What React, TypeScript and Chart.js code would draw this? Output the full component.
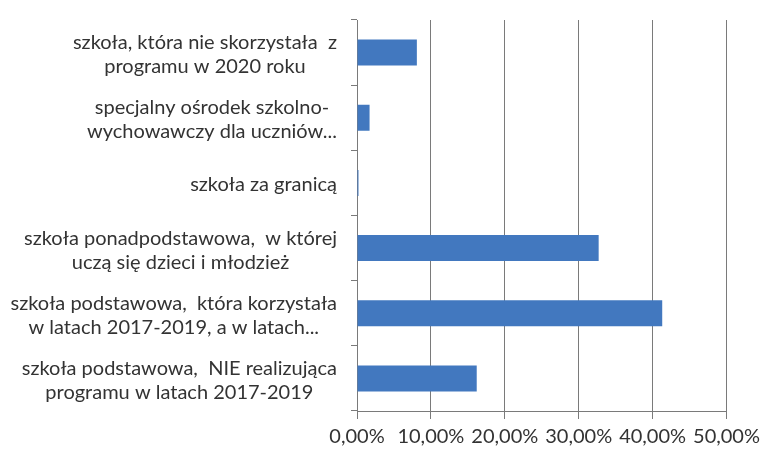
import React, { useEffect, useRef } from "react";
import { Chart, registerables } from "chart.js";

Chart.register(...registerables);

const categories: string[][] = [
  ["szkoła, która nie skorzystała  z", "programu w 2020 roku"],
  ["specjalny ośrodek szkolno-", "wychowawczy dla uczniów..."],
  ["szkoła za granicą"],
  ["szkoła ponadpodstawowa,  w której", "uczą się dzieci i młodzież"],
  ["szkoła podstawowa,  która korzystała", "w latach 2017-2019, a w latach..."],
  ["szkoła podstawowa,  NIE realizująca", "programu w latach 2017-2019"],
];

const values: number[] = [8.1, 1.7, 0.2, 32.7, 41.3, 16.2];

const xTicks: number[] = [0, 10, 20, 30, 40, 50];

const FONT = "Lato";
const LABEL_SIZE = 20;
const TICK_SIZE = 20;
const LINE_H = 24;
const LABEL_RIGHT = 337;
const AXIS_COLOR = "#7a7a7a";
const TEXT_COLOR = "#333333";
const BAR_COLOR = "#4278bf";

const labelPlugin = {
  id: "centeredLabels",
  afterDraw(chart: any) {
    const ctx = chart.ctx;
    const y = chart.scales.y;
    ctx.save();
    ctx.font = `${LABEL_SIZE}px ${FONT}`;
    ctx.fillStyle = TEXT_COLOR;
    ctx.textAlign = "center";
    ctx.textBaseline = "middle";
    categories.forEach((lines, i) => {
      const cy = y.getPixelForTick(i) + 2;
      const maxW = Math.max(...lines.map((l) => ctx.measureText(l).width));
      const cx = LABEL_RIGHT - maxW / 2;
      const startY = cy - ((lines.length - 1) * LINE_H) / 2;
      lines.forEach((l, j) => ctx.fillText(l, cx, startY + j * LINE_H));
    });
    ctx.restore();
  },
};

export default function App() {
  const ref = useRef<HTMLCanvasElement>(null);
  useEffect(() => {
    if (!ref.current) return;
    const chart = new Chart(ref.current, {
      type: "bar",
      data: {
        labels: categories.map((c) => c.join(" ")),
        datasets: [
          {
            data: values,
            backgroundColor: BAR_COLOR,
            borderWidth: 0,
            categoryPercentage: 1,
            barPercentage: 0.4,
          },
        ],
      },
      options: {
        indexAxis: "y",
        animation: false,
        responsive: false,
        maintainAspectRatio: false,
        layout: { padding: { top: 20, right: 37, bottom: 0, left: 0 } },
        plugins: { legend: { display: false }, tooltip: { enabled: false } },
        scales: {
          x: {
            min: 0,
            max: 50,
            afterBuildTicks: (scale: any) => {
              scale.ticks = xTicks.map((v) => ({ value: v }));
            },
            ticks: {
              color: TEXT_COLOR,
              font: { family: FONT, size: TICK_SIZE },
              padding: 6,
              maxRotation: 0,
              callback: (v: any) => Number(v).toFixed(2).replace(".", ",") + "%",
            },
            grid: { color: AXIS_COLOR, tickLength: 8, lineWidth: 1 },
            border: { color: AXIS_COLOR },
          },
          y: {
            offset: true,
            afterFit: (scale: any) => {
              scale.width = 357;
            },
            ticks: { display: false },
            grid: {
              offset: true,
              drawOnChartArea: false,
              drawTicks: true,
              tickLength: 6,
              color: AXIS_COLOR,
            },
            border: { color: AXIS_COLOR },
          },
        },
      },
      plugins: [labelPlugin],
    });
    return () => chart.destroy();
  }, []);
  return (
    <div style={{ position: "fixed", left: 0, top: 0, width: 766, height: 455, background: "#fff" }}>
      <canvas ref={ref} width={766} height={455} style={{ width: 766, height: 455 }} />
    </div>
  );
}
